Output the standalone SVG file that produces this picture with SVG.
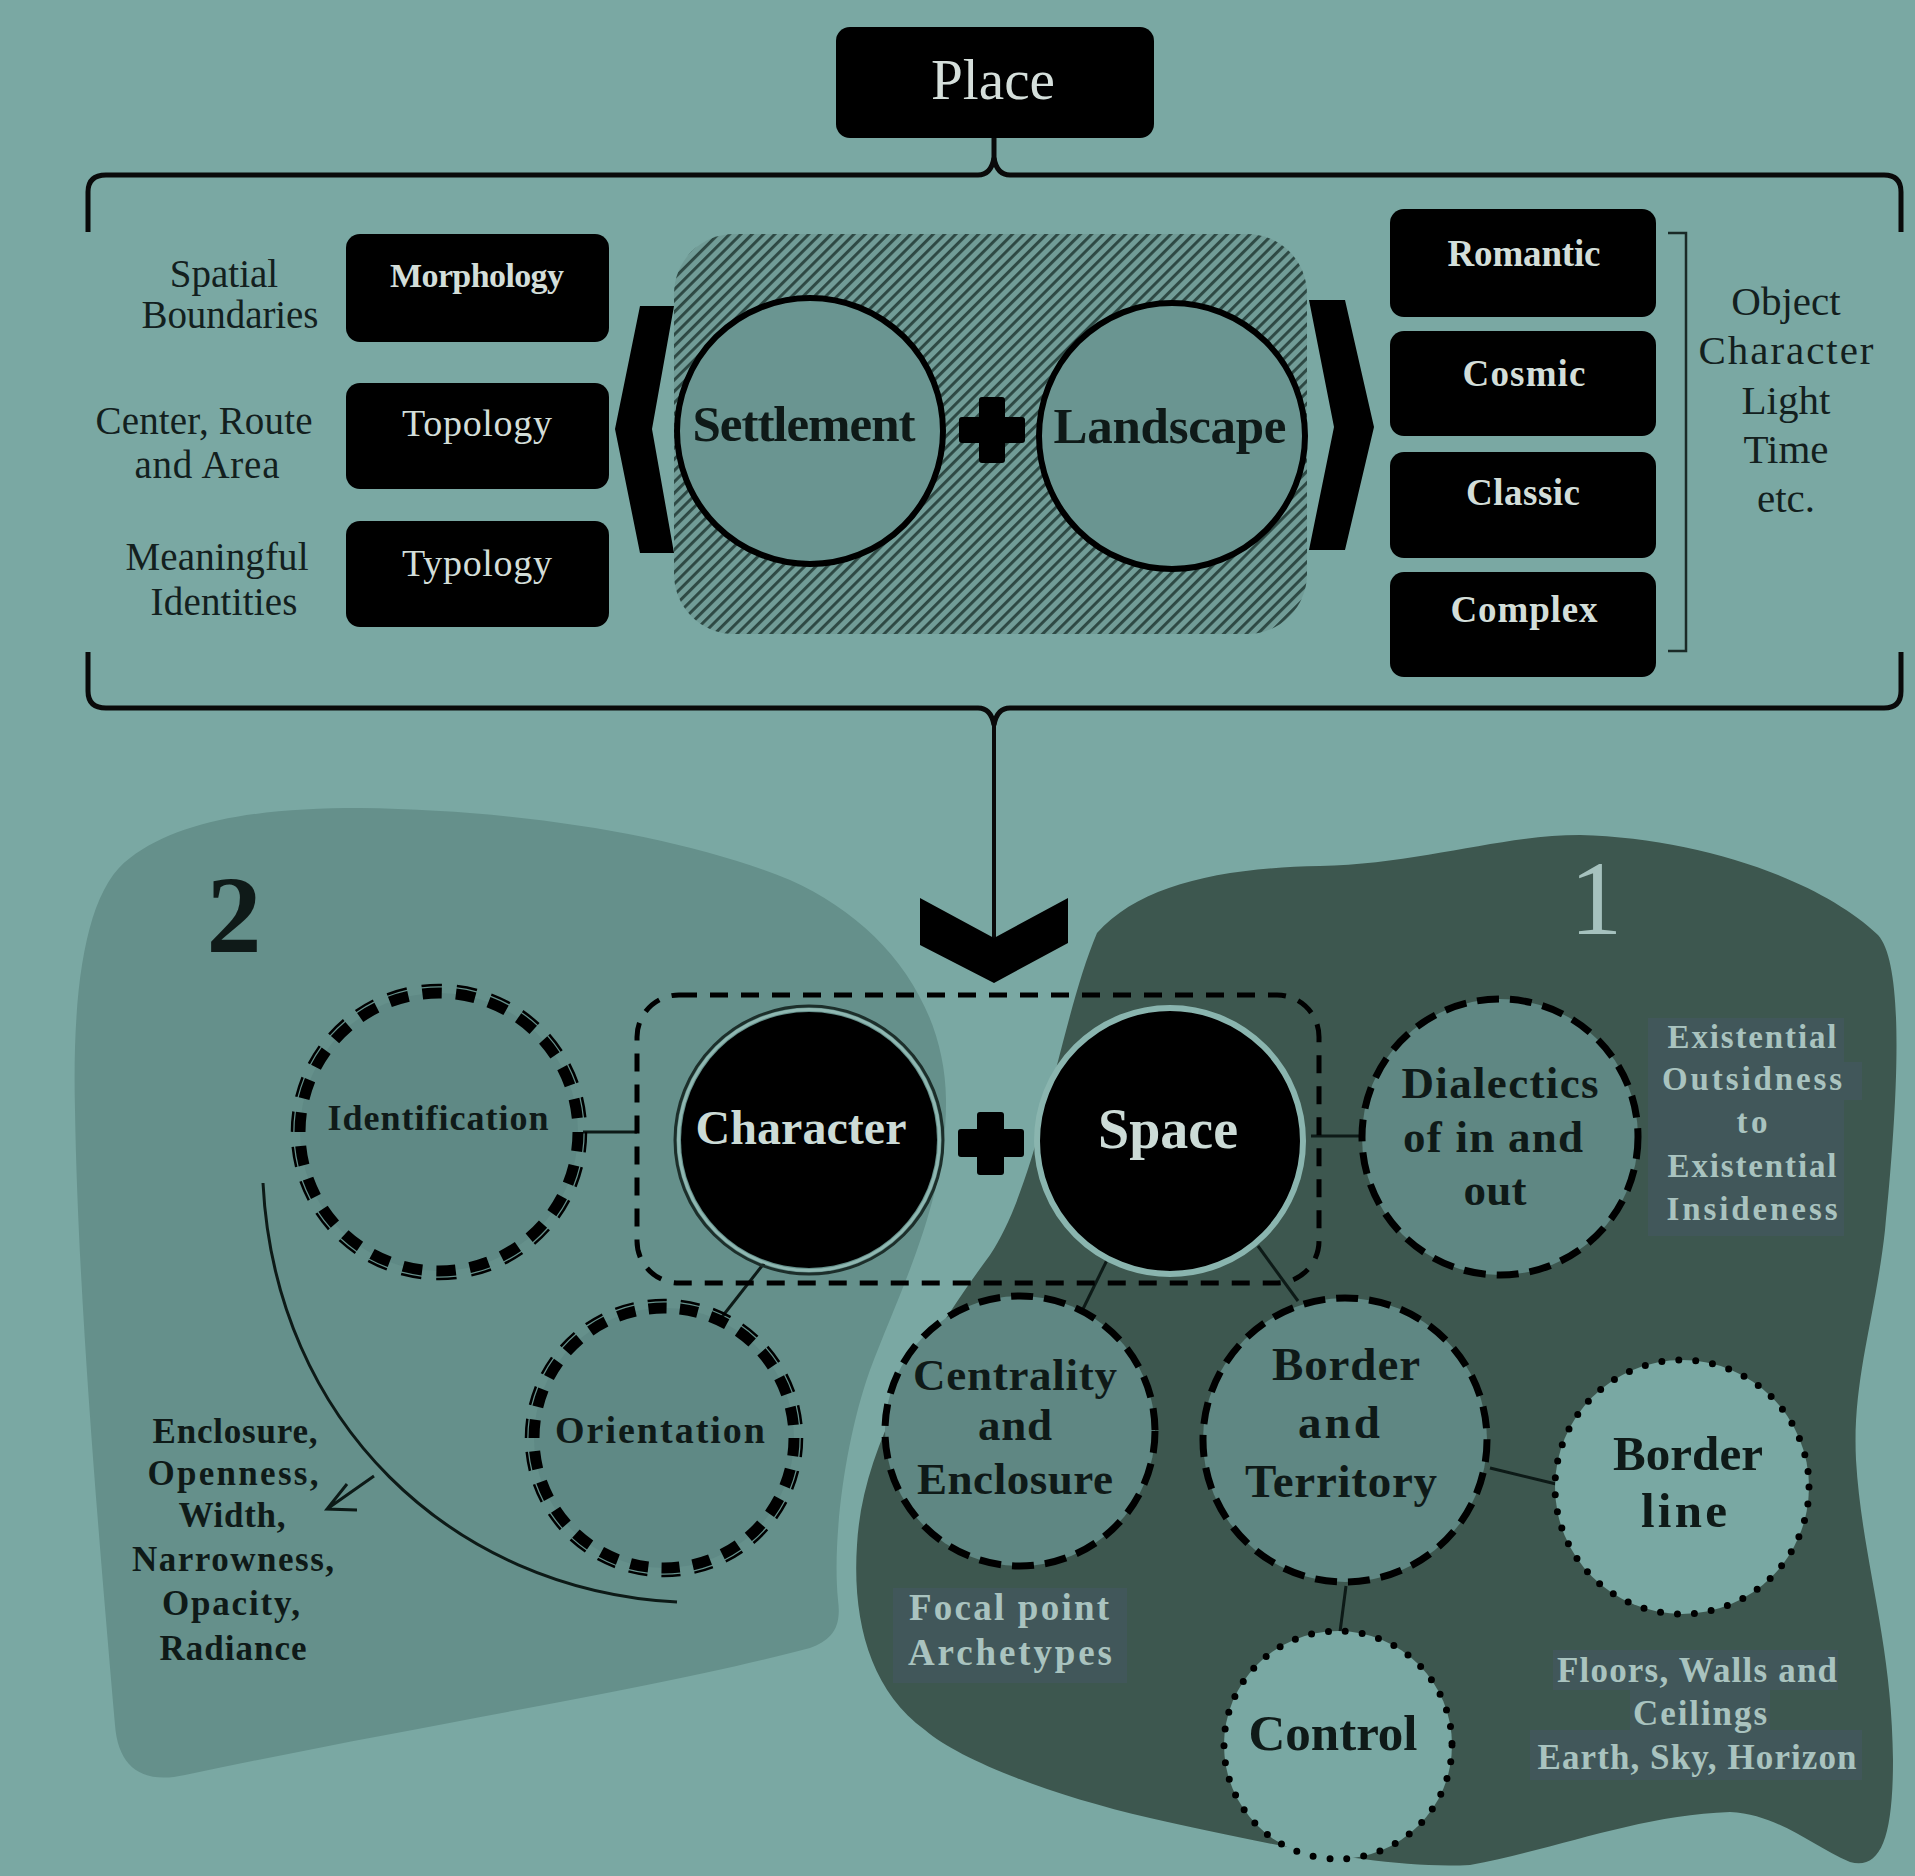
<svg xmlns="http://www.w3.org/2000/svg" width="1915" height="1876" viewBox="0 0 1915 1876">
<defs>
<pattern id="hatch" patternUnits="userSpaceOnUse" width="8" height="8" patternTransform="rotate(45)">
<rect width="8" height="8" fill="#719c97"/>
<rect x="0" y="0" width="2.9" height="8" fill="#2d4843"/>
</pattern>
</defs>
<style>
text{font-family:"Liberation Serif","Times New Roman",serif;text-anchor:middle}
.blk{fill:#000}
.btxt{fill:#d3ded9;font-weight:bold;font-size:37px}
.btxtr{fill:#d3ded9;font-size:38px}
.lbl{fill:#13201e;font-size:39px}
.dk{fill:#0f1a18;font-weight:bold}
.lt{fill:#a9c3bf;font-weight:bold;font-size:33px}
.ln{stroke:#0d1a17;stroke-width:3;fill:none}
.dash{fill:#5f8783;stroke:#000;stroke-width:7;stroke-dasharray:22 11}
.dot{fill:#79a8a3;stroke:#000;stroke-width:7;stroke-dasharray:0 17;stroke-linecap:round}
.dbl{fill:#5f8985;stroke:#000;stroke-width:11}
.dblo{fill:none;stroke:#000;stroke-width:2.5}
.tbg{fill:#41575a}
</style>
<rect width="1915" height="1876" fill="#7aa8a3"/>

<!-- regions -->
<g id="region-2">
<path d="M 75,1110 C 72,990 85,890 130,858 C 180,820 260,808 360,808 C 520,810 680,835 790,880 C 880,920 945,1000 946,1100 C 947,1200 900,1290 870,1370 C 845,1440 832,1540 838,1600 C 842,1630 830,1640 810,1648 C 650,1690 420,1725 185,1775 C 140,1785 118,1765 115,1725 C 100,1550 78,1300 75,1110 Z" fill="#65908b"/>
<text x="234" y="952" class="dk" style="font-size:110px">2</text>
</g>
<g id="region-1">
<path d="M 1097,933 C 1140,885 1220,868 1320,866 C 1420,864 1500,835 1580,835 C 1700,838 1820,880 1878,935 C 1905,965 1898,1100 1885,1230 C 1875,1320 1852,1380 1856,1460 C 1862,1560 1892,1640 1893,1760 C 1893,1840 1880,1870 1850,1862 C 1810,1845 1780,1815 1730,1812 C 1640,1815 1560,1848 1470,1865 C 1380,1870 1250,1840 1150,1818 C 1050,1795 960,1760 925,1730 C 870,1690 852,1620 857,1545 C 862,1450 920,1350 990,1255 C 1040,1180 1060,1020 1097,933 Z" fill="#3d574f"/>
<text x="1596" y="934" style="font-size:105px;fill:#a6c2be">1</text>
</g>

<!-- connectors -->
<g id="connectors">
<path d="M 88,232 V 192 Q 88,175 106,175 H 978 Q 991,175 994,158 Q 997,175 1010,175 H 1884 Q 1901,175 1901,192 V 232" fill="none" stroke="#0a0a0a" stroke-width="5"/>
<line x1="994" y1="136" x2="994" y2="160" stroke="#0a0a0a" stroke-width="5"/>
<path d="M 88,652 V 691 Q 88,708 106,708 H 978 Q 991,708 994,725 Q 997,708 1010,708 H 1884 Q 1901,708 1901,691 V 652" fill="none" stroke="#0a0a0a" stroke-width="5"/>
<line x1="994" y1="720" x2="994" y2="945" stroke="#0a0a0a" stroke-width="4"/>
<polygon points="920,898 994,938 1068,898 1068,943 994,983 920,945" fill="#000"/>
<path d="M 1668,233 H 1686 V 651 H 1668" fill="none" stroke="#1a2a27" stroke-width="2.5"/>
<line x1="583" y1="1132" x2="637" y2="1132" class="ln"/>
<line x1="765" y1="1262" x2="718" y2="1322" class="ln"/>
<line x1="1311" y1="1136" x2="1362" y2="1136" class="ln"/>
<line x1="1108" y1="1258" x2="1082" y2="1311" class="ln"/>
<line x1="1258" y1="1246" x2="1298" y2="1301" class="ln"/>
<line x1="1490" y1="1468" x2="1556" y2="1484" class="ln"/>
<line x1="1346" y1="1586" x2="1340" y2="1632" class="ln"/>
<path d="M 263,1183 C 275,1420 450,1590 677,1602" class="ln" stroke="#14302b"/>
<path d="M 374,1476 L 327,1509 M 347,1484 L 327,1509 L 357,1510" class="ln" stroke="#14302b"/>
</g>

<!-- top section -->
<g id="place">
<rect x="836" y="27" width="318" height="111" rx="14" class="blk"/>
<text x="993" y="99" style="font-size:56px;fill:#d5dfdb" textLength="124" lengthAdjust="spacingAndGlyphs">Place</text>
</g>

<g id="labels-left">
<text x="224" y="287" class="lbl">Spatial</text>
<text x="230" y="328" class="lbl" textLength="177">Boundaries</text>
<text x="204" y="434" class="lbl" textLength="217">Center, Route</text>
<text x="207" y="478" class="lbl" textLength="145">and Area</text>
<text x="217" y="570" class="lbl" textLength="183">Meaningful</text>
<text x="224" y="615" class="lbl" textLength="147">Identities</text>
</g>

<g id="morphology">
<rect x="346" y="234" width="263" height="108" rx="14" class="blk"/>
<text x="477" y="287" class="btxt" style="font-size:34px" textLength="174">Morphology</text>
</g>
<g id="topology">
<rect x="346" y="383" width="263" height="106" rx="14" class="blk"/>
<text x="477" y="436" class="btxtr" textLength="150">Topology</text>
</g>
<g id="typology">
<rect x="346" y="521" width="263" height="106" rx="14" class="blk"/>
<text x="477" y="576" class="btxtr" textLength="150">Typology</text>
</g>

<g id="settlement-landscape">
<rect x="674" y="234" width="633" height="400" rx="60" fill="url(#hatch)"/>
<polygon points="640,306 674,306 652,429 674,553 640,553 615,429" fill="#000"/>
<polygon points="1309,300 1345,300 1374,427 1345,550 1309,550 1334,427" fill="#000"/>
</g>
<g id="settlement">
<circle cx="810" cy="431" r="133" fill="#6a9591" stroke="#000" stroke-width="6"/>
<text x="804" y="441" class="dk" style="font-size:51px" textLength="223">Settlement</text>
</g>
<g id="plus-top">
<rect x="979" y="397" width="26" height="66" rx="3" fill="#000"/>
<rect x="959" y="417" width="66" height="26" rx="3" fill="#000"/>
</g>
<g id="landscape">
<circle cx="1172" cy="436" r="133" fill="#6a9591" stroke="#000" stroke-width="6"/>
<text x="1170" y="443" class="dk" style="font-size:51px" textLength="233">Landscape</text>
</g>

<g id="romantic">
<rect x="1390" y="209" width="266" height="108" rx="14" class="blk"/>
<text x="1524" y="266" class="btxt" textLength="153">Romantic</text>
</g>
<g id="cosmic">
<rect x="1390" y="331" width="266" height="105" rx="14" class="blk"/>
<text x="1524" y="386" class="btxt" textLength="123">Cosmic</text>
</g>
<g id="classic">
<rect x="1390" y="452" width="266" height="106" rx="14" class="blk"/>
<text x="1523" y="505" class="btxt" textLength="114">Classic</text>
</g>
<g id="complex">
<rect x="1390" y="572" width="266" height="105" rx="14" class="blk"/>
<text x="1524" y="622" class="btxt" textLength="147">Complex</text>
</g>

<g id="labels-right">
<text x="1786" y="315" class="lbl" style="font-size:41px">Object</text>
<text x="1786" y="364" class="lbl" style="font-size:41px" textLength="175">Character</text>
<text x="1786" y="414" class="lbl" style="font-size:41px">Light</text>
<text x="1786" y="463" class="lbl" style="font-size:41px">Time</text>
<text x="1786" y="512" class="lbl" style="font-size:41px">etc.</text>
</g>

<!-- lower section -->
<g id="character-space-frame">
<rect x="637" y="995" width="682" height="288" rx="42" fill="none" stroke="#000" stroke-width="5" stroke-dasharray="18 13"/>
</g>

<g id="identification">
<circle cx="439" cy="1132" r="139" class="dbl" pathLength="360" stroke-dasharray="8 5.85"/>
<circle cx="439" cy="1132" r="147" class="dblo" pathLength="360" stroke-dasharray="8 5.85"/>
<text x="438" y="1130" class="dk" style="font-size:36px" textLength="221">Identification</text>
</g>
<g id="orientation">
<circle cx="664" cy="1438" r="130" class="dbl" pathLength="360" stroke-dasharray="8 5.85"/>
<circle cx="664" cy="1438" r="138" class="dblo" pathLength="360" stroke-dasharray="8 5.85"/>
<text x="660" y="1443" class="dk" style="font-size:38px" textLength="210">Orientation</text>
</g>
<g id="enclosure-list">
<text x="235" y="1443" class="dk" style="font-size:35px" textLength="165">Enclosure,</text>
<text x="233" y="1485" class="dk" style="font-size:35px" textLength="171">Openness,</text>
<text x="232" y="1527" class="dk" style="font-size:35px" textLength="107">Width,</text>
<text x="233" y="1571" class="dk" style="font-size:35px" textLength="202">Narrowness,</text>
<text x="231" y="1615" class="dk" style="font-size:35px" textLength="138">Opacity,</text>
<text x="233" y="1660" class="dk" style="font-size:35px" textLength="147">Radiance</text>
</g>

<g id="character">
<circle cx="809" cy="1140" r="128" fill="#000"/>
<circle cx="809" cy="1140" r="130.5" fill="none" stroke="#8fb7b1" stroke-width="3"/>
<circle cx="809" cy="1140" r="134" fill="none" stroke="#1c2e2a" stroke-width="3"/>
<text x="801" y="1144" style="font-size:48px;font-weight:bold;fill:#ccdbd6" textLength="211">Character</text>
</g>
<g id="plus-bottom">
<rect x="977" y="1112" width="27" height="63" rx="3" fill="#000"/>
<rect x="958" y="1129" width="66" height="28" rx="3" fill="#000"/>
</g>
<g id="space">
<circle cx="1170" cy="1141" r="133" fill="#000" stroke="#8ab5af" stroke-width="6"/>
<text x="1168" y="1148" style="font-size:56px;font-weight:bold;fill:#ccdbd6" textLength="140">Space</text>
</g>

<g id="dialectics">
<circle cx="1500" cy="1137" r="138" class="dash"/>
<text x="1500" y="1098" class="dk" style="font-size:45px" textLength="197">Dialectics</text>
<text x="1493" y="1152" class="dk" style="font-size:45px" textLength="180">of in and</text>
<text x="1495" y="1205" class="dk" style="font-size:45px" textLength="63">out</text>
</g>
<g id="existential-note">
<rect x="1648" y="1018" width="196" height="218" class="tbg"/>
<rect x="1840" y="1062" width="22" height="38" class="tbg"/>
<text x="1752" y="1048" class="lt" textLength="169">Existential</text>
<text x="1752" y="1090" class="lt" textLength="180">Outsidness</text>
<text x="1752" y="1133" class="lt" textLength="31">to</text>
<text x="1752" y="1177" class="lt" textLength="169">Existential</text>
<text x="1752" y="1220" class="lt" textLength="171">Insideness</text>
</g>

<g id="centrality">
<circle cx="1020" cy="1431" r="135" class="dash"/>
<text x="1015" y="1390" class="dk" style="font-size:45px" textLength="204">Centrality</text>
<text x="1015" y="1440" class="dk" style="font-size:45px" textLength="74">and</text>
<text x="1015" y="1494" class="dk" style="font-size:45px" textLength="196">Enclosure</text>
</g>
<g id="focal-note">
<rect x="893" y="1588" width="234" height="95" class="tbg"/>
<text x="1009" y="1620" class="lt" style="font-size:37px" textLength="200">Focal point</text>
<text x="1010" y="1665" class="lt" style="font-size:37px" textLength="204">Archetypes</text>
</g>

<g id="border-territory">
<circle cx="1345" cy="1440" r="142" class="dash"/>
<text x="1346" y="1380" class="dk" style="font-size:47px" textLength="148">Border</text>
<text x="1339" y="1438" class="dk" style="font-size:47px" textLength="82">and</text>
<text x="1341" y="1497" class="dk" style="font-size:47px" textLength="192">Territory</text>
</g>
<g id="border-line">
<circle cx="1682" cy="1487" r="127" class="dot"/>
<text x="1688" y="1470" class="dk" style="font-size:49px" textLength="150">Border</text>
<text x="1684" y="1527" class="dk" style="font-size:49px" textLength="86">line</text>
</g>
<g id="control">
<circle cx="1338" cy="1745" r="114" class="dot"/>
<text x="1333" y="1750" class="dk" style="font-size:51px" textLength="169">Control</text>
</g>
<g id="floors-note">
<rect x="1553" y="1650" width="285" height="40" class="tbg"/>
<rect x="1630" y="1690" width="140" height="40" class="tbg"/>
<rect x="1530" y="1730" width="332" height="50" class="tbg"/>
<text x="1697" y="1682" class="lt" style="font-size:35px" textLength="280">Floors, Walls and</text>
<text x="1700" y="1725" class="lt" style="font-size:35px" textLength="134">Ceilings</text>
<text x="1697" y="1769" class="lt" style="font-size:35px" textLength="319">Earth, Sky, Horizon</text>
</g>
</svg>
